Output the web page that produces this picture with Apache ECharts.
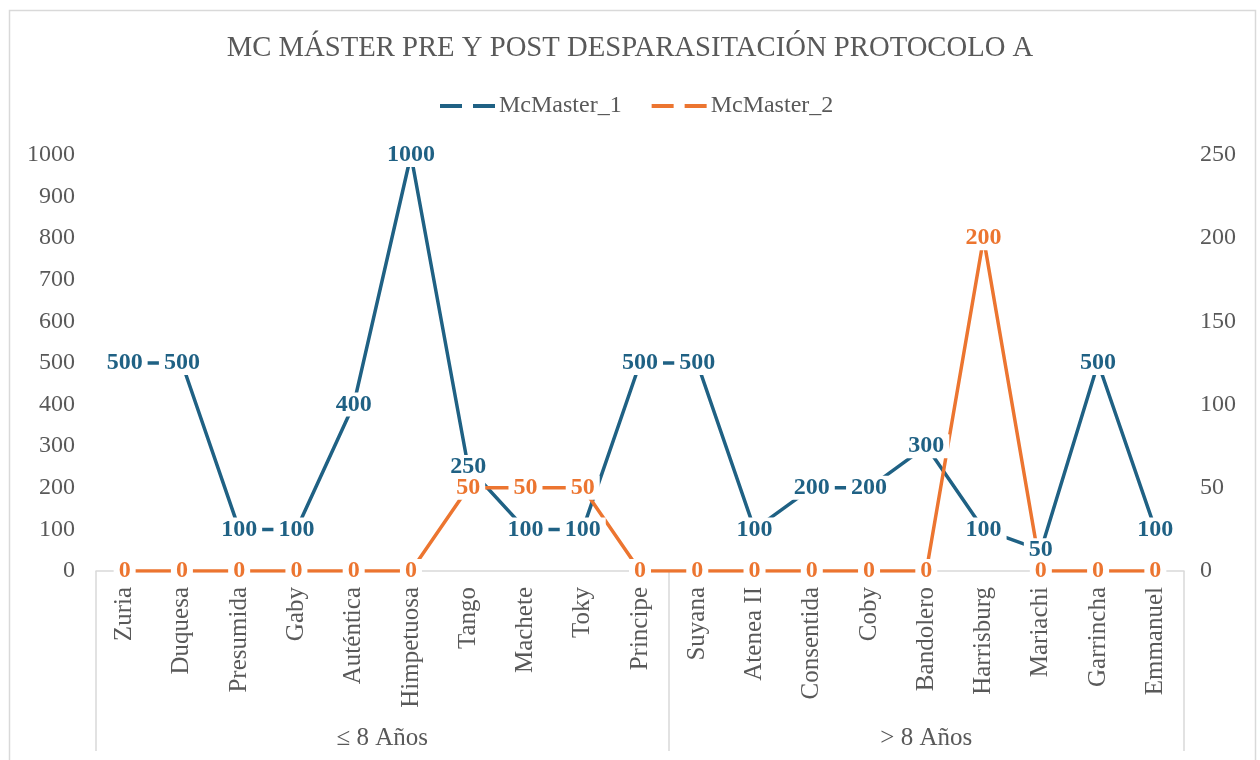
<!DOCTYPE html>
<html>
<head>
<meta charset="utf-8">
<script src="https://cdn.jsdelivr.net/npm/echarts@6/dist/echarts.min.js"></script>
<style>
  html, body { margin: 0; padding: 0; background: #fff; }
  #chart { width: 1260px; height: 760px; }
</style>
</head>
<body>
<div id="chart"></div>
<script>
/* Data */
let categories = [
  "Zuria", "Duquesa", "Presumida", "Gaby", "Auténtica", "Himpetuosa",
  "Tango", "Machete", "Toky", "Principe",
  "Suyana", "Atenea II", "Consentida", "Coby", "Bandolero",
  "Harrisburg", "Mariachi", "Garrincha", "Emmanuel"
];
let mcMaster1 = [500, 500, 100, 100, 400, 1000, 250, 100, 100, 500,
                 500, 100, 200, 200, 300, 100, 50, 500, 100];
let mcMaster2 = [0, 0, 0, 0, 0, 0, 50, 50, 50, 0,
                 0, 0, 0, 0, 0, 200, 0, 0, 0];
let groupLabels = ["≤ 8 Años", "> 8 Años"];
let groupSizes = [10, 9];
let leftTicks = { min: 0, max: 1000, interval: 100 };
let rightTicks = { min: 0, max: 250, interval: 50 };

let BLUE = "#1f6184";
let ORANGE = "#ec7530";
let GREY_TEXT = "#595959";
let GREY_LINE = "#d9d9d9";
let FONT = "'Liberation Serif', 'Times New Roman', serif";

/* group boundaries and centres in category units */
let groupEdges = [0];
let groupCenters = [];
groupSizes.forEach(function (n) {
  let start = groupEdges[groupEdges.length - 1];
  groupCenters.push(start + n / 2);
  groupEdges.push(start + n);
});

/* lines first, then a label-only layer on top so every value box
   hides whatever line passes behind it (like Excel does) */
function lineSeries(name, data, yIndex, color) {
  return {
    name: name,
    type: "line",
    yAxisIndex: yIndex,
    data: data,
    symbol: "none",
    lineStyle: { color: color, width: 3.5 },
    itemStyle: { color: color },
    z: 2
  };
}

function labelSeries(name, data, yIndex, color, z) {
  return {
    name: name + " labels",
    type: "scatter",
    yAxisIndex: yIndex,
    data: data,
    symbolSize: 1,
    itemStyle: { color: color, opacity: 1 },
    label: {
      show: true,
      position: "inside",
      color: color,
      fontFamily: FONT,
      fontSize: 24,
      fontWeight: "bold",
      lineHeight: 22,
      backgroundColor: "#fff",
      padding: [1, 5]
    },
    z: z
  };
}

let chart = echarts.init(document.getElementById("chart"), null, { renderer: "canvas" });

chart.setOption({
  backgroundColor: "#fff",
  animation: false,
  textStyle: { fontFamily: FONT },
  title: {
    text: "MC MÁSTER PRE Y POST DESPARASITACIÓN PROTOCOLO A",
    left: "center",
    top: 29,
    textStyle: { fontFamily: FONT, fontSize: 28.7, fontWeight: "normal", color: GREY_TEXT }
  },
  graphic: [{
    type: "rect",
    shape: { x: 9.5, y: 10.5, width: 1246, height: 760 },
    style: { fill: "none", stroke: GREY_LINE, lineWidth: 1.5 },
    silent: true,
    z: -1
  }],
  legend: {
    top: 94,
    left: 440,
    padding: 0,
    itemWidth: 55,
    itemHeight: 4,
    itemGap: 30,
    icon: "path://M0,0H22V4H0Z M33,0H55V4H33Z",
    textStyle: { fontFamily: FONT, fontSize: 24, color: GREY_TEXT, padding: [0, 0, 0, -1] },
    data: ["McMaster_1", "McMaster_2"]
  },
  grid: { left: 96, right: 76, top: 155, bottom: 189, containLabel: false },
  xAxis: [
    {
      type: "category",
      data: categories,
      boundaryGap: true,
      axisLine: { show: true, lineStyle: { color: GREY_LINE, width: 1.5 } },
      axisTick: { show: false },
      axisLabel: {
        interval: 0,
        rotate: 90,
        margin: 16,
        fontFamily: FONT,
        fontSize: 25,
        color: GREY_TEXT
      },
      splitLine: { show: false }
    },
    {
      type: "value",
      min: 0,
      max: categories.length,
      position: "bottom",
      axisLine: { show: false },
      splitLine: { show: false },
      axisTick: {
        show: true,
        customValues: groupEdges,
        length: 180,
        lineStyle: { color: GREY_LINE, width: 1.5 }
      },
      axisLabel: {
        show: true,
        customValues: groupCenters,
        margin: 155,
        fontFamily: FONT,
        fontSize: 25,
        color: GREY_TEXT,
        formatter: function (v) {
          let i = groupCenters.indexOf(v);
          return i >= 0 ? groupLabels[i] : "";
        }
      }
    }
  ],
  yAxis: [
    {
      type: "value",
      min: leftTicks.min,
      max: leftTicks.max,
      interval: leftTicks.interval,
      position: "left",
      axisLine: { show: false },
      axisTick: { show: false },
      splitLine: { show: false },
      axisLabel: {
        margin: 21, fontFamily: FONT, fontSize: 24, color: GREY_TEXT,
        formatter: function (v) { return String(v); }
      }
    },
    {
      type: "value",
      min: rightTicks.min,
      max: rightTicks.max,
      interval: rightTicks.interval,
      position: "right",
      axisLine: { show: false },
      axisTick: { show: false },
      splitLine: { show: false },
      axisLabel: {
        margin: 16, fontFamily: FONT, fontSize: 24, color: GREY_TEXT,
        formatter: function (v) { return String(v); }
      }
    }
  ],
  series: [
    lineSeries("McMaster_1", mcMaster1, 0, BLUE),
    lineSeries("McMaster_2", mcMaster2, 1, ORANGE),
    labelSeries("McMaster_2", mcMaster2, 1, ORANGE, 5),
    labelSeries("McMaster_1", mcMaster1, 0, BLUE, 6)
  ]
});
</script>
</body>
</html>
